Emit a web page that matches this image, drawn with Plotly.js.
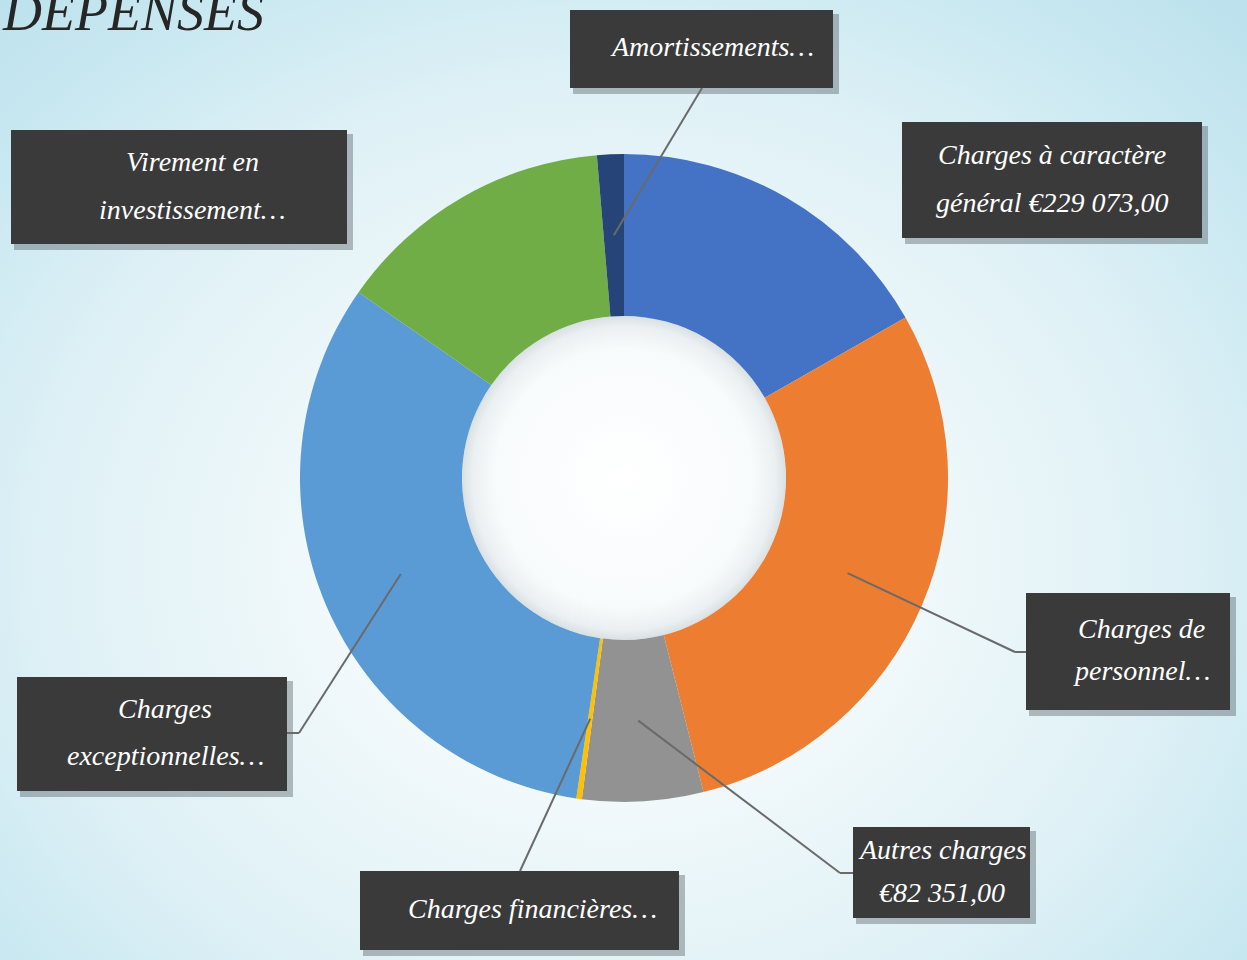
<!DOCTYPE html>
<html>
<head>
<meta charset="utf-8">
<script src="https://cdn.plot.ly/plotly-3.0.1.min.js"></script>
<style>
  html, body { margin: 0; padding: 0; }
  #chart {
    width: 1247px; height: 960px;
    background: radial-gradient(ellipse 900px 760px at 610px 560px, #ffffff 0%, #f2f9fb 30%, #dff1f6 62%, #c9e8f1 85%, #bde2ed 100%);
  }
</style>
</head>
<body>
<div id="chart"></div>
<script>
// ---- Data ----
const categories = ["Charges à caractère général", "Charges de personnel", "Autres charges",
  "Charges financières", "Charges exceptionnelles", "Virement en investissement", "Amortissements"];
const values = [229073, 400700, 82351, 3800, 442600, 190700, 18240];
const labelTexts = [
  ["Charges à caractère", "général €229 073,00"],
  ["Charges de", "personnel…"],
  ["Autres charges", "€82 351,00"],
  ["Charges financières…"],
  ["Charges", "exceptionnelles…"],
  ["Virement en", "investissement…"],
  ["Amortissements…"]
];
const colors = ["#4472C4", "#ED7D31", "#929292", "#FFC000", "#5B9BD5", "#70AD47", "#264478"];

// ---- Layout geometry (pixels) ----
const W = 1247, H = 960;
const CX = 624, CY = 478, R = 324, HOLE = 0.5;
const px = x => x / W, py = y => 1 - y / H;

// label boxes [x0,y0,x1,y1], text centre x, line gap, leader path (elbow/end points)
const boxes = [
  {b: [902, 122, 1202, 238], tx: 1052, gap: 48, leader: null},
  {b: [1026, 593, 1230, 710], tx: 1141, gap: 42, leader: [[1015, 652], [1026, 652]]},
  {b: [853, 827, 1030, 918], tx: 942, gap: 43, leader: [[840, 873], [853, 873]]},
  {b: [360, 871, 679, 950], tx: 532, gap: 0, leader: [[520, 871]]},
  {b: [17, 677, 287, 791], tx: 165, gap: 47, leader: [[299, 733], [287, 733]]},
  {b: [11, 130, 347, 244], tx: 192, gap: 48, leader: null},
  {b: [570, 10, 833, 88], tx: 712, gap: 0, leader: [[702, 88]]}
];

const total = values.reduce((a, b) => a + b, 0);
const shapes = [], annotations = [], images = [];

function patternSvg(w, h) {
  const svg = `<svg xmlns="http://www.w3.org/2000/svg" width="${w}" height="${h}" viewBox="0 0 ${w} ${h}">` +
    `<defs><pattern id="p" width="6" height="6" patternUnits="userSpaceOnUse">` +
    `<rect width="6" height="6" fill="#3a3a3a"/><rect x="2" y="2" width="2" height="2" fill="#484848"/></pattern></defs>` +
    `<rect width="${w}" height="${h}" fill="url(#p)"/></svg>`;
  return "data:image/svg+xml;base64," + btoa(svg);
}

function holeSvg() {
  const svg = `<svg xmlns="http://www.w3.org/2000/svg" width="200" height="200" viewBox="0 0 200 200">` +
    `<defs><radialGradient id="g" cx="50%" cy="50%" r="50%">` +
    `<stop offset="0%" stop-color="#ffffff"/><stop offset="80%" stop-color="#f8fbfc"/>` +
    `<stop offset="94%" stop-color="#eaeff1"/><stop offset="100%" stop-color="#d9e0e3"/></radialGradient></defs>` +
    `<circle cx="100" cy="100" r="100" fill="url(#g)"/></svg>`;
  return "data:image/svg+xml;base64," + btoa(svg);
}

const rHole = R * HOLE;
images.push({
  source: holeSvg(), xref: "paper", yref: "paper",
  x: px(CX - rHole), y: py(CY - rHole), sizex: 2 * rHole / W, sizey: 2 * rHole / H,
  xanchor: "left", yanchor: "top", sizing: "stretch", layer: "below"
});

let cum = 0;
values.forEach((v, i) => {
  const f = (cum + v / 2) / total;
  cum += v;
  const a = 2 * Math.PI * f;
  const rm = R * (1 + HOLE) / 2;
  const ax = CX + rm * Math.sin(a), ay = CY - rm * Math.cos(a);
  const bx = boxes[i];
  const [x0, y0, x1, y1] = bx.b;
  // shadow
  shapes.push({type: "rect", xref: "paper", yref: "paper", layer: "below",
    x0: px(x0 + 3), x1: px(x1 + 6), y0: py(y0 + 4), y1: py(y1 + 6),
    fillcolor: "rgba(60,70,75,0.35)", line: {width: 0}});
  // box base
  shapes.push({type: "rect", xref: "paper", yref: "paper", layer: "below",
    x0: px(x0), x1: px(x1), y0: py(y0), y1: py(y1),
    fillcolor: "#3a3a3a", line: {width: 0}});
  images.push({source: patternSvg(x1 - x0, y1 - y0), xref: "paper", yref: "paper",
    x: px(x0), y: py(y0), sizex: (x1 - x0) / W, sizey: (y1 - y0) / H,
    xanchor: "left", yanchor: "top", sizing: "stretch", layer: "below"});
  // leader
  if (bx.leader) {
    let pts = [[ax, ay]].concat(bx.leader);
    for (let k = 0; k < pts.length - 1; k++) {
      shapes.push({type: "line", xref: "paper", yref: "paper", layer: "above",
        x0: px(pts[k][0]), y0: py(pts[k][1]), x1: px(pts[k + 1][0]), y1: py(pts[k + 1][1]),
        line: {color: "#6a6a6a", width: 2}});
    }
  }
  // text lines
  const lines = labelTexts[i];
  const cy = (y0 + y1) / 2;
  lines.forEach((t, k) => {
    const yy = cy + (k - (lines.length - 1) / 2) * bx.gap;
    annotations.push({text: "<i>" + t + "</i>", xref: "paper", yref: "paper",
      x: px(bx.tx), y: py(yy - 2), xanchor: "center", yanchor: "middle", showarrow: false,
      font: {family: "Liberation Serif, serif", size: 28, color: "#ffffff"}});
  });
});

// title
annotations.push({text: "<i>DÉPENSES</i>", xref: "paper", yref: "paper",
  x: 0, y: py(12), xanchor: "left", yanchor: "middle", showarrow: false,
  font: {family: "Liberation Serif, serif", size: 54, color: "#262626"}});

const trace = {
  type: "pie", labels: categories, values: values, hole: HOLE,
  sort: false, direction: "clockwise", rotation: 0,
  marker: {colors: colors, line: {width: 0}},
  textinfo: "none", hoverinfo: "label+value",
  domain: {x: [px(CX - R), px(CX + R)], y: [py(CY + R), py(CY - R)]},
  showlegend: false
};

const layout = {
  width: W, height: H,
  margin: {l: 0, r: 0, t: 0, b: 0},
  paper_bgcolor: "rgba(0,0,0,0)", plot_bgcolor: "rgba(0,0,0,0)",
  showlegend: false,
  shapes: shapes, annotations: annotations, images: images
};

Plotly.newPlot("chart", [trace], layout, {displayModeBar: false, staticPlot: true});
</script>
</body>
</html>
